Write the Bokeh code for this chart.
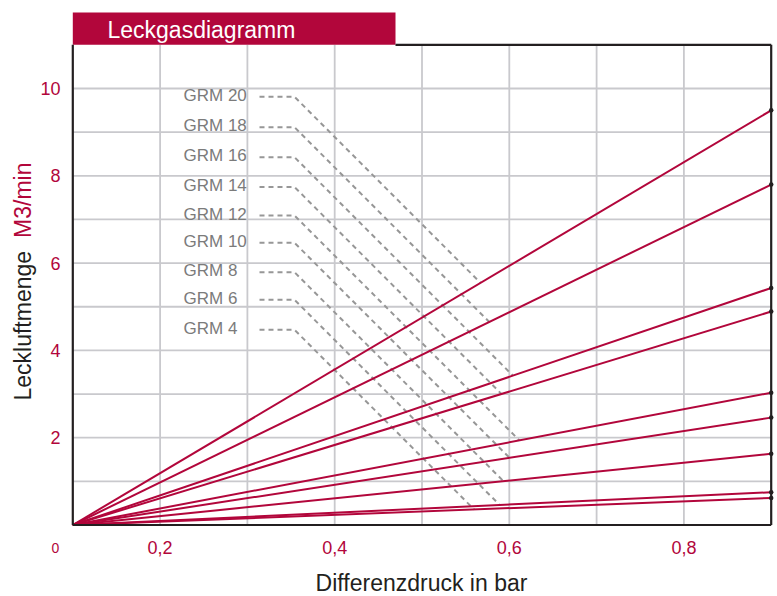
import math
from bokeh.plotting import figure
from bokeh.models import Range1d
from bokeh.core.properties import value
from bokeh.embed import file_html
from bokeh.resources import INLINE

# ---------------- data ----------------
models = ["GRM 20", "GRM 18", "GRM 16", "GRM 14", "GRM 12", "GRM 10", "GRM 8", "GRM 6", "GRM 4"]
flow_at_max = [9.50, 7.80, 5.43, 4.89, 3.03, 2.46, 1.63, 0.75, 0.62]   # M3/min at right edge
pressure_start = 0.1
pressure_end = 0.9
flow_top = 11.0
x_tick_values = [0.2, 0.4, 0.6, 0.8]
x_tick_labels = ["0,2", "0,4", "0,6", "0,8"]
x_grid_values = [0.2, 0.3, 0.4, 0.5, 0.6, 0.7, 0.8]
y_tick_values = [2, 4, 6, 8, 10]
y_tick_labels = ["2", "4", "6", "8", "10"]
y_grid_values = [1, 2, 3, 4, 5, 6, 7, 8, 9, 10]
origin_label = "0"
title_text = "Leckgasdiagramm"
x_title = "Differenzdruck in bar"
y_title_black = "Leckluftmenge"
y_title_red = "M3/min"

# ---------------- layout / style ----------------
RED = "#b2063b"
DARK = "#231f20"
GRID = "#c9c9cd"
FONT = "Liberation Sans"

W, H = 775, 596
PX_X = 873.0      # pixels per bar
PX_Y = 43.65      # pixels per M3/min
X_LEFT = pressure_start - 72.3 / PX_X
Y_TOPV = 524.5 / PX_Y

def sx(px):  # screen x pixel -> data x
    return X_LEFT + px / PX_X

def sy(py):  # screen y pixel -> data y
    return Y_TOPV - py / PX_Y

p = figure(width=W, height=H,
           x_range=Range1d(X_LEFT, X_LEFT + W / PX_X),
           y_range=Range1d(Y_TOPV - H / PX_Y, Y_TOPV),
           output_backend="svg", toolbar_location=None,
           x_axis_location=None, y_axis_location=None, min_border=0)
p.outline_line_color = None
p.grid.visible = False
p.background_fill_color = "white"
p.border_fill_color = "white"

# grid lines
p.segment(x0=x_grid_values, y0=[0] * len(x_grid_values),
          x1=x_grid_values, y1=[flow_top] * len(x_grid_values),
          line_color=GRID, line_width=1.8)
p.segment(x0=[pressure_start] * len(y_grid_values), y0=y_grid_values,
          x1=[pressure_end] * len(y_grid_values), y1=y_grid_values,
          line_color=GRID, line_width=1.8)

# title bar
title_right = sx(395)
p.quad(left=[pressure_start], right=[title_right], bottom=[flow_top], top=[sy(12)],
       fill_color=RED, line_color=None)

# leader lines (dashed) from labels to each line
label_y = [sy(v) for v in [96.3, 126.7, 156.7, 186.5, 215.0, 242.3, 271.7, 299.3, 329.3]]
xa, xb = sx(259), sx(294)
slope = -PX_X / PX_Y          # 1 px down per 1 px right
lx, ly = [], []
for yk, v in zip(label_y, flow_at_max):
    k = v / (pressure_end - pressure_start)
    xe = (yk - slope * xb + k * pressure_start) / (k - slope)
    ye = k * (xe - pressure_start)
    lx.append([xa, xb, xe])
    ly.append([yk, yk, ye])
p.multi_line(xs=lx, ys=ly, line_color="#979797", line_width=2, line_dash="5 4")

# the leak lines
p.multi_line(xs=[[pressure_start, pressure_end] for _ in flow_at_max],
             ys=[[0, v] for v in flow_at_max], line_color=RED, line_width=2)

# frame lines
p.segment(x0=[pressure_start, pressure_start, pressure_end, title_right],
          y0=[0, 0, 0, flow_top],
          x1=[pressure_start, pressure_end, pressure_end, pressure_end],
          y1=[flow_top, 0, flow_top, flow_top],
          line_color=DARK, line_width=2.2)

p.scatter(x=[pressure_end] * len(flow_at_max), y=flow_at_max, size=4.5,
          fill_color=DARK, line_color=None)

# model labels
p.text(x=[sx(183)] * len(models), y=[v + 0.03 for v in label_y], text=models,
       text_font=value(FONT), text_font_size="17px", text_color="#7b7b7b",
       text_align="left", text_baseline="middle")

# tick labels
p.text(x=x_tick_values, y=[sy(547)] * len(x_tick_values), text=x_tick_labels,
       text_font=value(FONT), text_font_size="18px", text_color=RED,
       text_align="center", text_baseline="middle")
p.text(x=[sx(60)] * len(y_tick_values), y=y_tick_values, text=y_tick_labels,
       text_font=value(FONT), text_font_size="18px", text_color=RED,
       text_align="right", text_baseline="middle")
p.text(x=[sx(55)], y=[sy(547)], text=[origin_label],
       text_font=value(FONT), text_font_size="14px", text_color=RED,
       text_align="center", text_baseline="middle")

# titles
p.text(x=[sx(107)], y=[sy(29)], text=[title_text],
       text_font=value(FONT), text_font_size="23px", text_color="white",
       text_align="left", text_baseline="middle")
p.text(x=[sx(421)], y=[sy(582.5)], text=[x_title],
       text_font=value(FONT), text_font_size="23px", text_color=DARK,
       text_align="center", text_baseline="middle")
p.text(x=[sx(22)], y=[sy(400)], text=[y_title_black], angle=math.pi / 2,
       text_font=value(FONT), text_font_size="23px", text_color=DARK,
       text_align="left", text_baseline="middle")
p.text(x=[sx(22)], y=[sy(162)], text=[y_title_red], angle=math.pi / 2,
       text_font=value(FONT), text_font_size="23px", text_color=RED,
       text_align="right", text_baseline="middle")

open("out.html", "w").write(file_html(p, INLINE))
